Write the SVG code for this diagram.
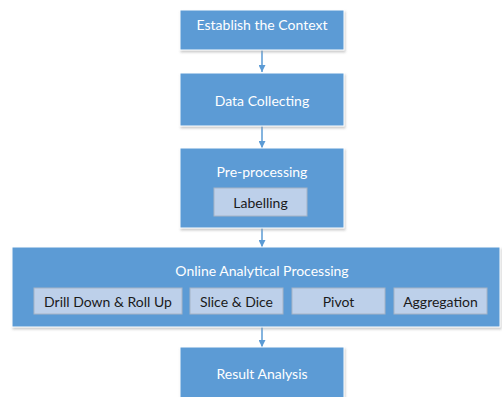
<svg xmlns="http://www.w3.org/2000/svg" width="502" height="397" viewBox="0 0 502 397">
  <style>
    .main { fill: #5b9bd5; stroke: #ffffff; stroke-width: 1; filter: url(#shadow); }
    .sub { fill: #bdd0ea; stroke: #a6b4c6; stroke-width: 1; }
    .lbl { font-family: Lato, "Liberation Sans", sans-serif; font-size: 14px; fill: #ffffff; text-anchor: middle; dominant-baseline: central; }
    .slbl { font-family: Lato, "Liberation Sans", sans-serif; font-size: 14px; fill: #1a1a1a; text-anchor: middle; dominant-baseline: central; }
    .conn { stroke: #5b9bd5; stroke-width: 1.5; fill: none; marker-end: url(#arrow); }
  </style>
  <defs>
    <filter id="shadow" x="-5%" y="-5%" width="110%" height="120%">
      <feDropShadow dx="1" dy="2" stdDeviation="1.2" flood-color="#9a9a9a" flood-opacity="0.5"/>
    </filter>
    <marker id="arrow" viewBox="0 0 10 10" refX="10" refY="5" markerWidth="7" markerHeight="7" markerUnits="userSpaceOnUse" orient="auto">
      <path d="M0,0 L10,5 L0,10 z" fill="#5b9bd5"/>
    </marker>
  </defs>
  <rect width="502" height="397" fill="#ffffff"/>

  <g id="connectors">
    <line class="conn" x1="262" y1="50" x2="262" y2="72"/>
    <line class="conn" x1="262" y1="126" x2="262" y2="148"/>
    <line class="conn" x1="262" y1="228" x2="262" y2="247"/>
    <line class="conn" x1="262" y1="327" x2="262" y2="347"/>
  </g>

  <g id="establish-context">
    <rect class="main" x="180" y="10" width="164" height="40"/>
    <text class="lbl" x="262" y="24">Establish the Context</text>
  </g>

  <g id="data-collecting">
    <rect class="main" x="180" y="73" width="164" height="53"/>
    <text class="lbl" x="262" y="100">Data Collecting</text>
  </g>

  <g id="pre-processing">
    <rect class="main" x="180" y="148" width="164" height="80"/>
    <text class="lbl" x="262" y="171">Pre-processing</text>
    <g id="labelling">
      <rect class="sub" x="214" y="188" width="93" height="28"/>
      <text class="slbl" x="260.5" y="202">Labelling</text>
    </g>
  </g>

  <g id="olap">
    <rect class="main" x="12" y="247" width="488" height="80"/>
    <text class="lbl" x="262" y="270">Online Analytical Processing</text>
    <g id="drill-down-roll-up">
      <rect class="sub" x="34" y="288" width="148" height="26"/>
      <text class="slbl" x="108" y="301">Drill Down &amp; Roll Up</text>
    </g>
    <g id="slice-dice">
      <rect class="sub" x="190" y="288" width="93" height="26"/>
      <text class="slbl" x="236.5" y="301">Slice &amp; Dice</text>
    </g>
    <g id="pivot">
      <rect class="sub" x="292" y="288" width="93" height="26"/>
      <text class="slbl" x="338.5" y="301">Pivot</text>
    </g>
    <g id="aggregation">
      <rect class="sub" x="394" y="288" width="93" height="26"/>
      <text class="slbl" x="440.5" y="301">Aggregation</text>
    </g>
  </g>

  <g id="result-analysis">
    <rect class="main" x="180" y="347" width="164" height="60"/>
    <text class="lbl" x="262" y="373">Result Analysis</text>
  </g>
</svg>
